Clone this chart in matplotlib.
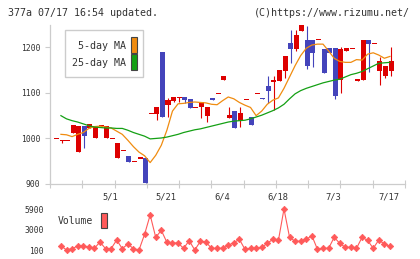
import numpy as np
import matplotlib
matplotlib.use("Agg")
import matplotlib.pyplot as plt
from matplotlib.patches import Rectangle

# ---------------- data ----------------
opens = [1000, 996, 996, 1011, 971, 1027, 1024, 1000, 1028, 1000,
         1000, 956, 974, 961, 950, 957, 957, 1055, 1054, 1189,
         1073, 1082, 1090, 1090, 1087, 1068, 1068, 1050, 1088, 1099,
         1128, 1045, 1060, 1039, 1085, 1048, 1099, 1089, 1116, 1124,
         1126, 1148, 1209, 1196, 1236, 1217, 1215, 1217, 1196, 1198,
         1198, 1128, 1193, 1198, 1126, 1128, 1215, 1208, 1148, 1137,
         1148]
closes = [1000, 996, 996, 1029, 1027, 1006, 1031, 1028, 1028, 1028,
          1000, 989, 974, 949, 950, 957, 903, 1055, 1068, 1047,
          1084, 1090, 1090, 1085, 1067, 1068, 1080, 1068, 1084, 1099,
          1136, 1051, 1023, 1055, 1085, 1030, 1099, 1086, 1104, 1128,
          1150, 1180, 1196, 1226, 1248, 1159, 1188, 1217, 1144, 1187,
          1093, 1196, 1198, 1198, 1130, 1215, 1207, 1208, 1169, 1158,
          1169]
highs = [1000, 996, 996, 1029, 1027, 1027, 1031, 1028, 1028, 1028,
         1000, 989, 974, 961, 950, 957, 957, 1055, 1068, 1189,
         1088, 1090, 1090, 1090, 1087, 1068, 1080, 1068, 1088, 1099,
         1136, 1068, 1060, 1068, 1085, 1048, 1099, 1089, 1136, 1136,
         1150, 1180, 1237, 1237, 1248, 1246, 1215, 1217, 1196, 1198,
         1198, 1201, 1198, 1198, 1130, 1217, 1215, 1208, 1179, 1158,
         1201]
lows = [1000, 989, 996, 1011, 971, 978, 1024, 1000, 1028, 1000,
        1000, 956, 974, 949, 950, 957, 903, 1055, 1040, 1047,
        1047, 1079, 1079, 1077, 1067, 1068, 1045, 1036, 1084, 1099,
        1128, 1045, 1023, 1025, 1085, 1030, 1099, 1086, 1077, 1063,
        1126, 1133, 1166, 1193, 1236, 1152, 1157, 1217, 1144, 1187,
        1087, 1100, 1193, 1198, 1126, 1128, 1146, 1208, 1117, 1133,
        1137]

ma5 = [1009, 1008, 1004, 1009, 1013, 1022, 1026, 1027, 1025, 1023,
       1016, 1009, 996, 982, 970, 962, 947, 963, 985, 1018,
       1060, 1076, 1077, 1079, 1080, 1079, 1078, 1075, 1074, 1083,
       1091, 1087, 1079, 1073, 1068, 1050, 1060, 1075, 1084, 1089,
       1110, 1135, 1160, 1182, 1198, 1205, 1207, 1207, 1192, 1176,
       1169, 1167, 1167, 1173, 1172, 1185, 1188, 1183, 1176, 1180]
ma25 = [1050, 1043, 1039, 1036, 1032, 1028, 1025, 1024, 1023, 1023,
        1022, 1022, 1018, 1013, 1009, 1005, 999, 1000, 1001, 1003,
        1006, 1009, 1013, 1016, 1019, 1021, 1024, 1027, 1030, 1033,
        1036, 1038, 1039, 1040, 1043, 1047, 1051, 1056, 1061, 1067,
        1075, 1087, 1098, 1105, 1110, 1114, 1118, 1122, 1125, 1128,
        1130, 1135, 1140, 1143, 1147, 1153, 1159, 1165, 1166, 1167]
volume = [713, 100, 289, 666, 666, 524, 336, 1232, 289, 289,
          1515, 289, 949, 289, 100, 2316, 5051, 1892, 2882, 1184,
          1090, 1090, 336, 1420, 100, 1326, 1232, 336, 336, 336,
          760, 1137, 1609, 194, 336, 336, 477, 1043, 1609, 1467,
          5900, 1892, 1326, 1326, 1609, 2127, 194, 336, 336, 1892,
          1043, 477, 477, 336, 1892, 1467, 336, 1515, 949, 619]

date_labels = ["5/1", "5/21", "6/4", "6/18", "7/3", "7/17"]
date_label_idx = [10, 20, 30, 40, 50, 60]
price_ticks = [900, 1000, 1100, 1200]
volume_ticks = [100, 3000, 5900]

# ---------------- style ----------------
RED = "#dd0000"
BLUE = "#4444bb"
ORANGE = "#f08c10"
GREEN = "#14a014"
VOLC = "#ff5a5a"
GRID = "#cccccc"
TXT = "#333333"
MONO = "DejaVu Sans Mono"

W, H = 420, 259
fig = plt.figure(figsize=(W / 100, H / 100), dpi=100)
fig.patch.set_facecolor("white")


def fx(px):
    return px / W


def fy(py):
    return 1 - py / H


o = np.array(opens, float)
c = np.array(closes, float)
hi = np.array(highs, float)
lo = np.array(lows, float)
n = len(o)
x = np.arange(n)
line_x = np.arange(1, len(ma5) + 1) - 0.2

XMIN, XMAX = -1.16, 62.5

# ---------------- main price axes ----------------
ax = fig.add_axes([fx(50), fy(184), fx(405) - fx(50), fy(25) - fy(184)])
ax.set_xlim(XMIN, XMAX)
ax.set_ylim(900, 1249)

up = c >= o
cols = np.where(up, RED, BLUE)
diff = np.abs(c - o)
bh = np.maximum(diff, 3.0)
bb = np.minimum(o, c) - (bh - diff) / 2
ax.vlines(x, lo, hi, colors=cols, lw=0.8, zorder=2)
ax.bar(x, bh, bottom=bb, width=0.9, color=cols, lw=0, zorder=3)

ax.plot(line_x, ma5, color=ORANGE, lw=0.9, zorder=4)
ax.plot(line_x, ma25, color=GREEN, lw=0.9, zorder=4)

for s in ["top", "right"]:
    ax.spines[s].set_visible(False)
for s in ["left", "bottom"]:
    ax.spines[s].set_color(GRID)
    ax.spines[s].set_linewidth(0.9)

ax.set_yticks(price_ticks)
ax.set_yticklabels([str(v) for v in price_ticks])
ax.tick_params(axis="y", direction="out", length=3.6, width=0.8, color=GRID,
               labelsize=5.8, labelcolor=TXT, pad=3.4)
for t in ax.get_yticklabels():
    t.set_family(MONO)

ax.set_xticks(np.linspace(XMIN, XMAX, 12))
ax.set_xticklabels([])
ax.tick_params(axis="x", which="major", direction="inout", length=5.5,
               width=0.8, color=GRID)
ax.set_xticks(np.array(date_label_idx) - 0.3, labels=date_labels, minor=True)
ax.tick_params(axis="x", which="minor", length=0, labelsize=6.3,
               labelcolor=TXT, pad=6.0)
for t in ax.get_xticklabels(minor=True):
    t.set_family(MONO)

# legend (main)
fig.patches.append(Rectangle((fx(65), fy(77)), fx(143) - fx(65), fy(30) - fy(77),
                             transform=fig.transFigure, facecolor="white",
                             edgecolor=GRID, lw=1.0, zorder=10))
fig.text(fx(125.5), fy(46), "5-day MA", ha="right", va="center", fontsize=7.2,
         family=MONO, color=TXT, zorder=11)
fig.text(fx(125.5), fy(63), "25-day MA", ha="right", va="center", fontsize=7.2,
         family=MONO, color=TXT, zorder=11)
fig.patches.append(Rectangle((fx(131), fy(53)), fx(6), fy(0) - fy(16),
                             transform=fig.transFigure, facecolor=ORANGE,
                             edgecolor="#444444", lw=0.8, zorder=11))
fig.patches.append(Rectangle((fx(131), fy(70)), fx(6), fy(0) - fy(16),
                             transform=fig.transFigure, facecolor=GREEN,
                             edgecolor="#444444", lw=0.8, zorder=11))

# ---------------- volume axes ----------------
vax = fig.add_axes([fx(50), fy(250), fx(405) - fx(50), fy(209) - fy(250)])
vax.set_xlim(XMIN, XMAX)
vax.set_ylim(100, 5900)
vax.plot(line_x, volume, color=VOLC, lw=0.8, marker="D", ms=3.3,
         mec=VOLC, mfc=VOLC, mew=0.5, clip_on=False)
for s in vax.spines.values():
    s.set_visible(False)
vax.set_xticks([])
vax.set_yticks(volume_ticks)
vax.set_yticklabels([str(v) for v in volume_ticks])
vax.tick_params(axis="y", length=0, labelsize=5.8, labelcolor=TXT, pad=4.6)
for t in vax.get_yticklabels():
    t.set_family(MONO)
vax.patch.set_alpha(0)

fig.text(fx(58), fy(221.5), "Volume", ha="left", va="center", fontsize=7.0,
         family=MONO, color=TXT)
fig.patches.append(Rectangle((fx(101), fy(228)), fx(6), fy(0) - fy(15),
                             transform=fig.transFigure, facecolor=VOLC,
                             edgecolor="#444444", lw=0.8, zorder=11))

# ---------------- header ----------------
fig.text(fx(8), fy(13), "377a 07/17 16:54 updated.", ha="left", va="center",
         fontsize=7.2, family=MONO, color=TXT)
fig.text(fx(410), fy(13), "(C)https://www.rizumu.net/", ha="right",
         va="center", fontsize=7.2, family=MONO, color=TXT)

fig.savefig("out.png", dpi=100, facecolor="white")
